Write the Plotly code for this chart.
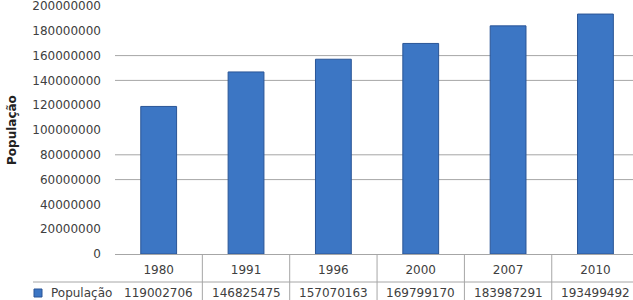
import plotly.graph_objects as go

years = ["1980", "1991", "1996", "2000", "2007", "2010"]
populacao = [119002706, 146825475, 157070163, 169799170, 183987291, 193499492]
y_ticks = [0, 20000000, 40000000, 60000000, 80000000, 100000000,
           120000000, 140000000, 160000000, 180000000, 200000000]
visible_grid = [60000000, 80000000, 140000000, 160000000]

FONT = "DejaVu Sans"
TXT = "#404040"
GRID = "#a6a6a6"

W, H = 633, 300
L, R, T, B = 115, 0, 6, 46
plot_h = H - T - B

def py(pix):
    # pixel y -> paper y
    return (H - B - pix) / plot_h

fig = go.Figure()
fig.add_trace(go.Bar(
    x=list(range(len(years))), y=populacao, width=0.41,
    marker=dict(color="#3c76c4", line=dict(color="#2a5596", width=1)),
    name="População", showlegend=False,
))

shapes = []
for g in visible_grid:
    shapes.append(dict(type="line", xref="paper", yref="y", x0=0, x1=1, y0=g, y1=g,
                       line=dict(color=GRID, width=1), layer="below"))
# table lines
shapes.append(dict(type="line", xref="paper", yref="paper",
                   x0=(33 - L) / (W - L - R), x1=1, y0=py(282), y1=py(282),
                   line=dict(color=GRID, width=1)))
for i in range(len(years) - 1):
    shapes.append(dict(type="line", xref="x", yref="paper", x0=i + 0.5, x1=i + 0.5,
                       y0=py(300), y1=0, line=dict(color=GRID, width=1)))
# legend key
shapes.append(dict(type="rect", xref="paper", yref="paper",
                   x0=(34 - L) / (W - L - R), x1=(42 - L) / (W - L - R),
                   y0=py(297), y1=py(289),
                   fillcolor="#3c76c4", line=dict(color="#2a5596", width=1)))

annotations = []
for i, v in enumerate(populacao):
    annotations.append(dict(x=i, y=py(293), xref="x", yref="paper", text=str(v),
                            showarrow=False, font=dict(family=FONT, size=12, color=TXT),
                            xanchor="center", yanchor="middle"))
annotations.append(dict(x=(49 - L) / (W - L - R), y=py(293), xref="paper", yref="paper",
                        text="População", showarrow=False,
                        font=dict(family=FONT, size=12, color=TXT),
                        xanchor="left", yanchor="middle"))
annotations.append(dict(x=(12 - L) / (W - L - R), y=py(130), xref="paper", yref="paper",
                        text="<b>População</b>", showarrow=False, textangle=-90,
                        font=dict(family=FONT, size=12, color="#222"),
                        xanchor="center", yanchor="middle"))

fig.update_layout(
    width=W, height=H, autosize=False,
    margin=dict(l=L, r=R, t=T, b=B, pad=0),
    plot_bgcolor="white", paper_bgcolor="white",
    showlegend=False, bargap=0.59,
    shapes=shapes, annotations=annotations,
    xaxis=dict(range=[-0.5, 5.43], tickmode="array", tickvals=list(range(len(years))),
               ticktext=years, showgrid=False, zeroline=False,
               showline=True, linecolor=GRID, linewidth=1, ticks="",
               ticklabelstandoff=5,
               tickfont=dict(family=FONT, size=12, color=TXT)),
    yaxis=dict(range=[0, 200000000], tickmode="array", tickvals=y_ticks,
               ticktext=[str(t) for t in y_ticks], showgrid=False, zeroline=False,
               showline=False, ticks="", ticklabelstandoff=13,
               ticklabeloverflow="allow",
               tickfont=dict(family=FONT, size=12, color=TXT)),
)

fig.write_html("out.html")
